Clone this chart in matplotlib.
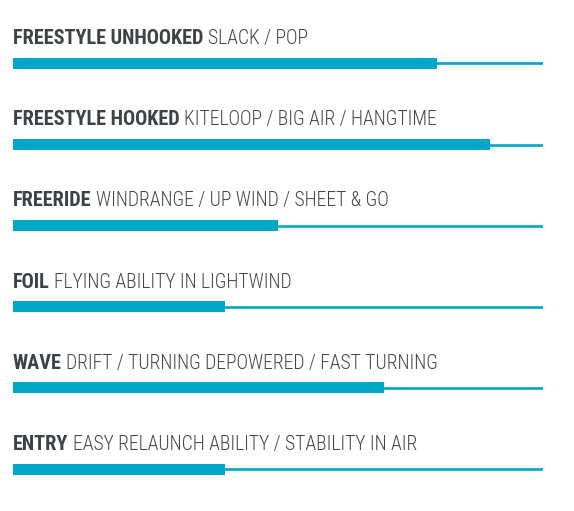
import matplotlib
matplotlib.use("Agg")
import matplotlib.pyplot as plt

# ratings, 0..1 of full scale
categories = ["FREESTYLE UNHOOKED", "FREESTYLE HOOKED", "FREERIDE", "FOIL", "WAVE", "ENTRY"]
details = [
    "SLACK / POP",
    "KITELOOP / BIG AIR / HANGTIME",
    "WINDRANGE / UP WIND / SHEET & GO",
    "FLYING ABILITY IN LIGHTWIND",
    "DRIFT / TURNING DEPOWERED / FAST TURNING",
    "EASY RELAUNCH ABILITY / STABILITY IN AIR",
]
values = [0.8, 0.9, 0.5, 0.4, 0.7, 0.4]

TEAL = "#00a7c6"
W, H = 574, 511

fig = plt.figure(figsize=(W / 100, H / 100), dpi=100)
fig.patch.set_facecolor("white")
ax = fig.add_axes([13 / W, 0, 530 / W, 1])
ax.set_xlim(0, 1)
row_px = 81.1
top_px = 63.5
ax.set_ylim((H - top_px) / row_px, -top_px / row_px)
ax.axis("off")

n = len(categories)
rows = list(range(n))
ax.hlines(rows, 0, 1, color=TEAL, lw=1.9)
ax.barh(rows, values, height=11 / row_px, left=0, color=TEAL)

fig.canvas.draw()
r = fig.canvas.get_renderer()
for i in rows:
    yt = i - 19.3 / row_px
    t = ax.text(0, yt, categories[i], fontfamily="Roboto Condensed", fontweight="bold",
                fontsize=14.6, color="#3d4246", va="baseline", ha="left")
    bb = t.get_window_extent(renderer=r)
    x_data = ax.transData.inverted().transform((bb.x1 + 4.5, 0))[0]
    ax.text(x_data, yt, details[i], fontfamily="Roboto Condensed", fontweight="light",
            fontsize=14.15, color="#43474c", va="baseline", ha="left")

fig.savefig("out.png", dpi=100, facecolor="white")
